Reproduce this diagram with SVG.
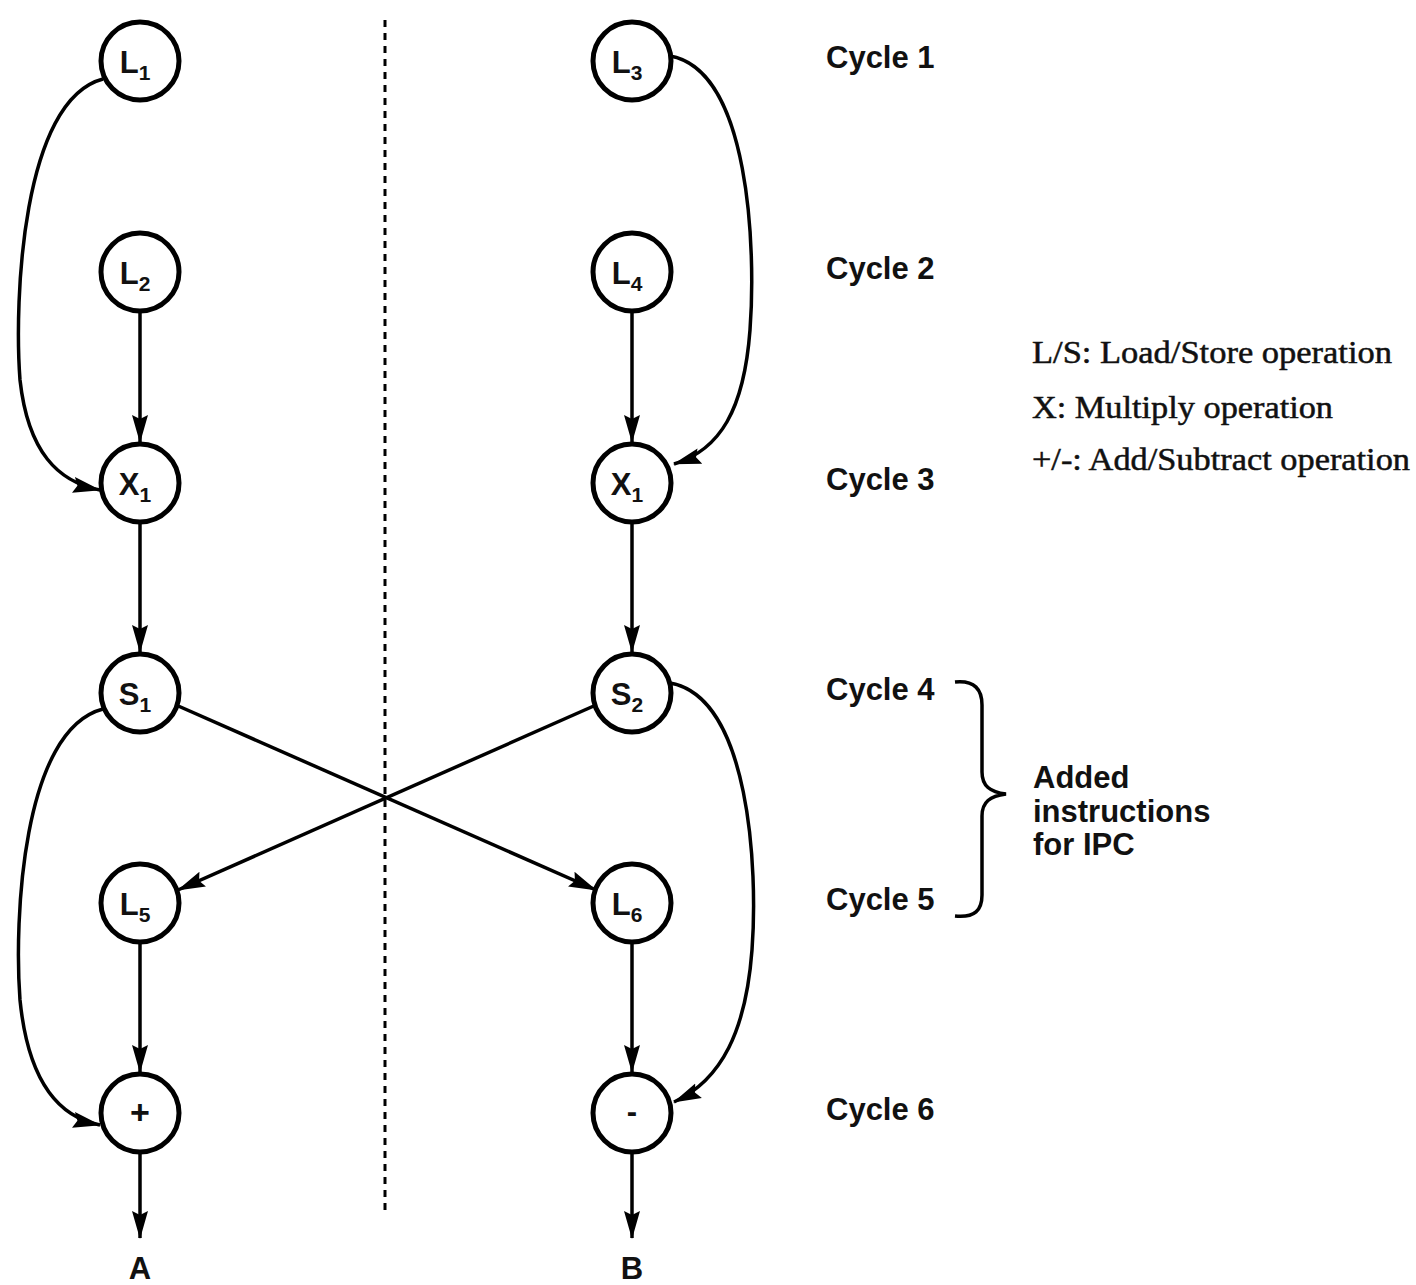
<svg xmlns="http://www.w3.org/2000/svg" width="1416" height="1285" viewBox="0 0 1416 1285">
  <style>
    .node circle { fill: #fff; stroke: #000; stroke-width: 5; }
    .lbl { font-family: "Liberation Sans", Arial, sans-serif; font-weight: bold; font-size: 31px; fill: #111; text-anchor: middle; }
    .sub { font-size: 21px; }
    .cyc { font-family: "Liberation Sans", Arial, sans-serif; font-weight: bold; font-size: 31px; fill: #111; }
    .leg { font-family: "Liberation Serif", "Times New Roman", serif; font-size: 31px; fill: #111; stroke: #111; stroke-width: 0.5; }
    .edge { fill: none; stroke: #000; stroke-width: 3.5; }
  </style>
  <defs>
    <marker id="arr" viewBox="0 0 28 18" refX="27" refY="9" markerWidth="28" markerHeight="18" markerUnits="userSpaceOnUse" orient="auto">
      <path d="M0,1 L28,9 L0,17 L4,9 Z" fill="#000"/>
    </marker>
  </defs>

  <rect width="1416" height="1285" fill="#fff"/>

  <!-- divider between the two processors -->
  <line x1="385" y1="20" x2="385" y2="1212" stroke="#000" stroke-width="3" stroke-dasharray="7,6"/>

  <g id="connectors">
    <!-- left column -->
    <path class="edge" marker-end="url(#arr)" d="M103,79 C22,100 14,300 20,380 C28,452 58,482 100,490"/>
    <line class="edge" marker-end="url(#arr)" x1="140" y1="312" x2="140" y2="442"/>
    <line class="edge" marker-end="url(#arr)" x1="140" y1="523" x2="140" y2="652"/>
    <path class="edge" marker-end="url(#arr)" d="M103,709 C22,730 14,920 20,1000 C28,1080 58,1117 100,1125"/>
    <line class="edge" marker-end="url(#arr)" x1="140" y1="943" x2="140" y2="1072"/>
    <line class="edge" marker-end="url(#arr)" x1="140" y1="1153" x2="140" y2="1238"/>
    <!-- right column -->
    <path class="edge" marker-end="url(#arr)" d="M670,56 C750,70 756,250 750,330 C744,410 720,450 674,464"/>
    <line class="edge" marker-end="url(#arr)" x1="632" y1="312" x2="632" y2="442"/>
    <line class="edge" marker-end="url(#arr)" x1="632" y1="523" x2="632" y2="652"/>
    <path class="edge" marker-end="url(#arr)" d="M670,683 C750,697 758,870 752,950 C746,1030 722,1080 674,1102"/>
    <line class="edge" marker-end="url(#arr)" x1="632" y1="943" x2="632" y2="1072"/>
    <line class="edge" marker-end="url(#arr)" x1="632" y1="1153" x2="632" y2="1238"/>
    <!-- interprocessor transfers -->
    <line class="edge" marker-end="url(#arr)" x1="176" y1="705" x2="596" y2="890"/>
    <line class="edge" marker-end="url(#arr)" x1="596" y1="705" x2="178" y2="890"/>
  </g>

  <g id="n-L1" class="node"><circle cx="140" cy="61" r="39"/><text class="lbl" x="135" y="73">L<tspan class="sub" dy="7">1</tspan></text></g>
  <g id="n-L2" class="node"><circle cx="140" cy="272" r="39"/><text class="lbl" x="135" y="284">L<tspan class="sub" dy="7">2</tspan></text></g>
  <g id="n-X1a" class="node"><circle cx="140" cy="483" r="39"/><text class="lbl" x="135" y="495">X<tspan class="sub" dy="7">1</tspan></text></g>
  <g id="n-S1" class="node"><circle cx="140" cy="693" r="39"/><text class="lbl" x="135" y="705">S<tspan class="sub" dy="7">1</tspan></text></g>
  <g id="n-L5" class="node"><circle cx="140" cy="903" r="39"/><text class="lbl" x="135" y="915">L<tspan class="sub" dy="7">5</tspan></text></g>
  <g id="n-add" class="node"><circle cx="140" cy="1113" r="39"/><text class="lbl" x="140" y="1124" style="font-size:34px">+</text></g>

  <g id="n-L3" class="node"><circle cx="632" cy="61" r="39"/><text class="lbl" x="627" y="73">L<tspan class="sub" dy="7">3</tspan></text></g>
  <g id="n-L4" class="node"><circle cx="632" cy="272" r="39"/><text class="lbl" x="627" y="284">L<tspan class="sub" dy="7">4</tspan></text></g>
  <g id="n-X1b" class="node"><circle cx="632" cy="483" r="39"/><text class="lbl" x="627" y="495">X<tspan class="sub" dy="7">1</tspan></text></g>
  <g id="n-S2" class="node"><circle cx="632" cy="693" r="39"/><text class="lbl" x="627" y="705">S<tspan class="sub" dy="7">2</tspan></text></g>
  <g id="n-L6" class="node"><circle cx="632" cy="903" r="39"/><text class="lbl" x="627" y="915">L<tspan class="sub" dy="7">6</tspan></text></g>
  <g id="n-sub" class="node"><circle cx="632" cy="1113" r="39"/><text class="lbl" x="632" y="1122">-</text></g>

  <!-- outputs -->
  <text class="lbl" x="140" y="1279">A</text>
  <text class="lbl" x="632" y="1279">B</text>

  <!-- cycle labels -->
  <text class="cyc" x="826" y="68">Cycle 1</text>
  <text class="cyc" x="826" y="279">Cycle 2</text>
  <text class="cyc" x="826" y="490">Cycle 3</text>
  <text class="cyc" x="826" y="700">Cycle 4</text>
  <text class="cyc" x="826" y="910">Cycle 5</text>
  <text class="cyc" x="826" y="1120">Cycle 6</text>

  <!-- brace grouping cycles 4 and 5 -->
  <path d="M955,682 C975,680 982,690 982,705 L982,772 C982,786 990,792 1006,794 C990,796 982,802 982,816 L982,895 C982,910 975,918 955,916" fill="none" stroke="#000" stroke-width="3.5"/>
  <text class="cyc" x="1033" y="788">Added</text>
  <text class="cyc" x="1033" y="822">instructions</text>
  <text class="cyc" x="1033" y="855">for IPC</text>

  <!-- legend -->
  <text class="leg" x="1032" y="363" textLength="360" lengthAdjust="spacingAndGlyphs">L/S: Load/Store operation</text>
  <text class="leg" x="1032" y="418" textLength="301" lengthAdjust="spacingAndGlyphs">X: Multiply operation</text>
  <text class="leg" x="1032" y="470" textLength="378" lengthAdjust="spacingAndGlyphs">+/-: Add/Subtract operation</text>
</svg>
